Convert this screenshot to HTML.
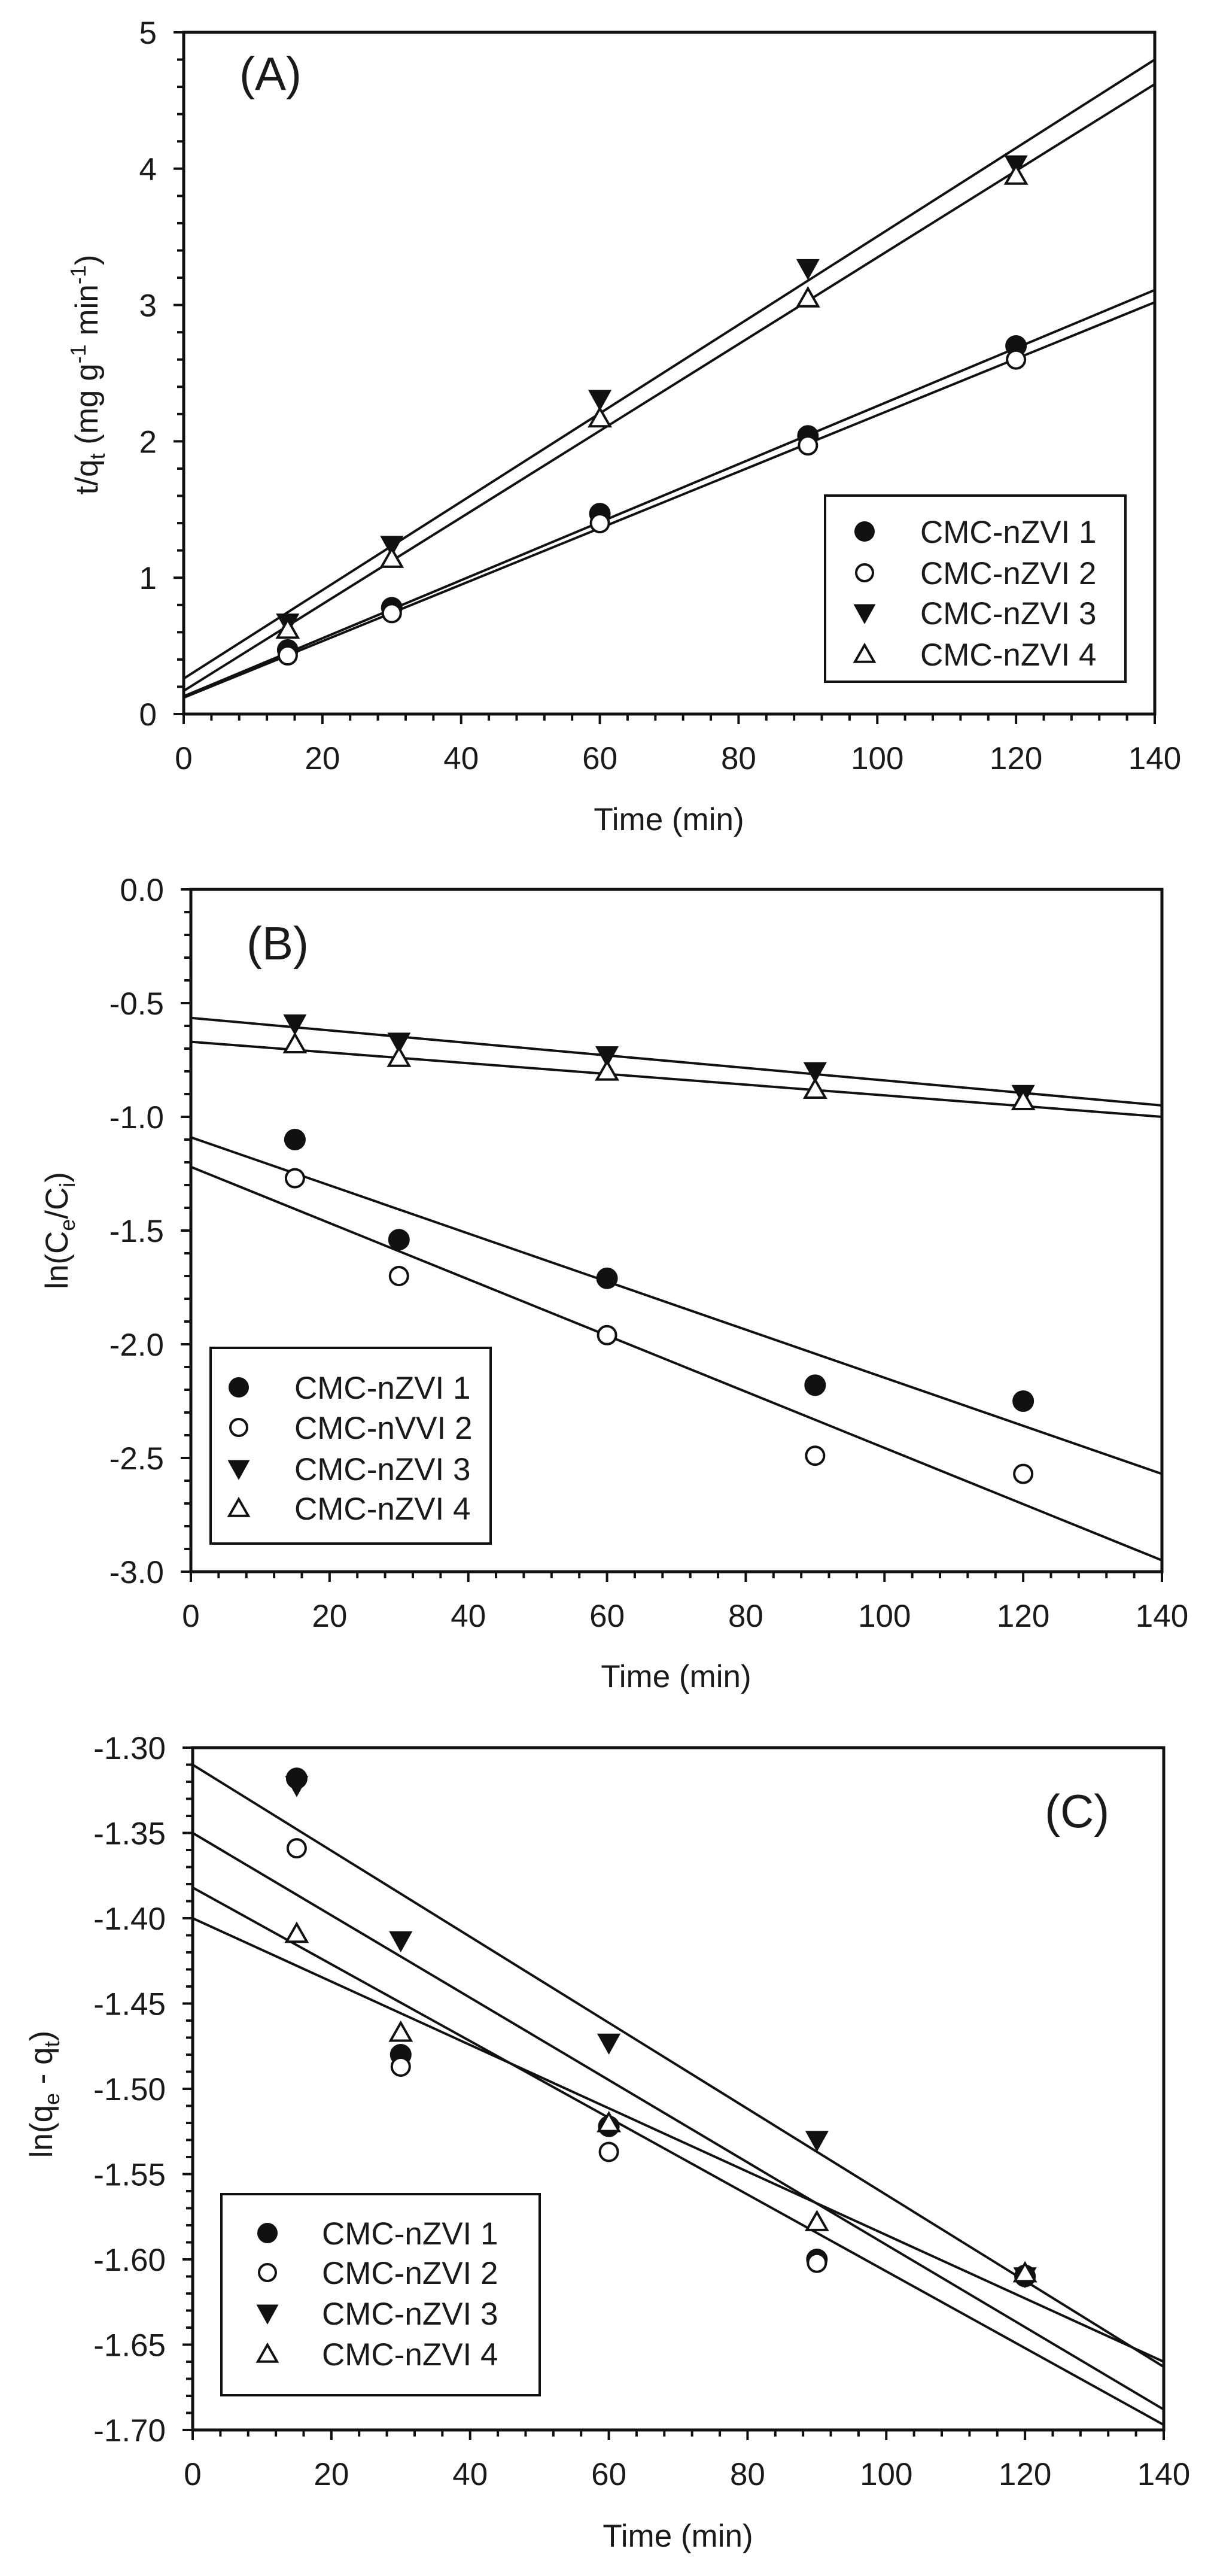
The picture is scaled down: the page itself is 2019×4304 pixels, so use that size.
<!DOCTYPE html>
<html><head><meta charset="utf-8">
<style>
html,body{margin:0;padding:0;background:#fff;}
svg{display:block;}
text{font-family:"Liberation Sans",Arial,sans-serif;fill:#1a1a1a;}
</style></head>
<body>
<svg id="s" xmlns="http://www.w3.org/2000/svg" width="2019" height="4304" viewBox="0 0 2019 4304">
<rect width="2019" height="4304" fill="#fff"/>
<!-- Axis titles -->
<text transform="translate(163,626) rotate(-90)" font-size="53" text-anchor="middle">t/q<tspan font-size="36" dy="12">t</tspan><tspan dy="-12"> (mg g</tspan><tspan font-size="36" dy="-20">-1</tspan><tspan dy="20"> min</tspan><tspan font-size="36" dy="-20">-1</tspan><tspan dy="20">)</tspan></text>
<text x="1118" y="1387" font-size="53" text-anchor="middle">Time (min)</text>
<text x="400" y="150" font-size="78">(A)</text>

<text transform="translate(113,2056) rotate(-90)" font-size="53" text-anchor="middle">ln(C<tspan font-size="36" dy="12">e</tspan><tspan dy="-12">/C</tspan><tspan font-size="36" dy="12">i</tspan><tspan dy="-12">)</tspan></text>
<text x="1130" y="2819" font-size="53" text-anchor="middle">Time (min)</text>
<text x="412" y="1603" font-size="78">(B)</text>

<text transform="translate(87,3499) rotate(-90)" font-size="53" text-anchor="middle">ln(q<tspan font-size="36" dy="12">e</tspan><tspan dy="-12"> - q</tspan><tspan font-size="36" dy="12">t</tspan><tspan dy="-12">)</tspan></text>
<text x="1133" y="4255" font-size="53" text-anchor="middle">Time (min)</text>
<text x="1746" y="3053" font-size="78">(C)</text>
<g id="g"></g>
</svg>
<script>
var NS="http://www.w3.org/2000/svg",G=document.getElementById("g");
function el(t,a,txt){var e=document.createElementNS(NS,t);for(var k in a)e.setAttribute(k,a[k]);if(txt!=null)e.textContent=txt;G.appendChild(e);return e;}
function marker(type,x,y,leg){
  var r=leg?16:17;
  if(type==0)el("circle",{cx:x,cy:y,r:r,fill:"#111",stroke:"#111","stroke-width":2});
  else if(type==1)el("circle",{cx:x,cy:y,r:r-2,fill:"#fff",stroke:"#111","stroke-width":4});
  else if(type==2){var h=r*1.05;el("polygon",{points:(x-h)+","+(y-h*0.8)+" "+(x+h)+","+(y-h*0.8)+" "+x+","+(y+h*1.0),fill:"#111",stroke:"#111","stroke-width":2});}
  else {var h=r*1.0;el("polygon",{points:(x-h)+","+(y+h*0.8)+" "+(x+h)+","+(y+h*0.8)+" "+x+","+(y-h*0.95),fill:"#fff",stroke:"#111","stroke-width":4});}
}
function panel(p){
  var X=function(v){return p.x0+(p.x1-p.x0)*v/140;};
  var Y=function(v){return p.y1+(p.y0-p.y1)*(v-p.ymin)/(p.ymax-p.ymin);};
  // fit lines
  p.lines.forEach(function(l){el("line",{x1:X(0),y1:Y(l[0]),x2:X(140),y2:Y(l[1]),stroke:"#111","stroke-width":4});});
  // frame
  el("rect",{x:p.x0,y:p.y0,width:p.x1-p.x0,height:p.y1-p.y0,fill:"none",stroke:"#111","stroke-width":5});
  // x ticks
  for(var t=0;t<=140;t+=4){var major=(t%20==0);var xx=X(t);
    el("line",{x1:xx,y1:p.y1,x2:xx,y2:p.y1+(major?17:11),stroke:"#111","stroke-width":4});
    if(major)el("text",{x:xx,y:p.y1+92,"font-size":53,"text-anchor":"middle"},String(t));}
  // y ticks
  var n=Math.round((p.ymax-p.ymin)/p.minor);
  for(var i=0;i<=n;i++){var v=p.ymin+i*p.minor;var yy=Y(v);var major=(i%5==0);
    el("line",{x1:p.x0,y1:yy,x2:p.x0-(major?17:11),y2:yy,stroke:"#111","stroke-width":4});
    if(major)el("text",{x:p.x0-45,y:yy+19,"font-size":53,"text-anchor":"end"},v.toFixed(p.dec));}
  // data
  var xs=[15,30,60,90,120];
  p.data.forEach(function(d,s){d.forEach(function(v,i){marker(s,X(xs[i]),Y(v),false);});});
  // legend
  var L=p.leg;
  el("rect",{x:L.x,y:L.y,width:L.w,height:L.h,fill:"#fff",stroke:"#111","stroke-width":4});
  L.names.forEach(function(nm,i){var yy=L.ys[i];marker(i,L.sx,yy,true);
    el("text",{x:L.tx,y:yy+19,"font-size":53},nm);});
}
var names=["CMC-nZVI 1","CMC-nZVI 2","CMC-nZVI 3","CMC-nZVI 4"];
panel({x0:307,x1:1930,y0:54,y1:1193,ymin:0,ymax:5,minor:0.2,dec:0,
  lines:[[0.13,3.11],[0.12,3.02],[0.26,4.80],[0.17,4.62]],
  data:[[0.47,0.78,1.47,2.04,2.70],[0.43,0.74,1.40,1.97,2.60],[0.67,1.24,2.31,3.27,4.03],[0.62,1.14,2.17,3.05,3.95]],
  leg:{x:1379,y:828,w:502,h:311,sx:1445,tx:1538,ys:[888,957,1024,1093],names:names}});
panel({x0:319,x1:1942,y0:1486,y1:2626,ymin:-3,ymax:0,minor:0.1,dec:1,
  lines:[[-1.09,-2.57],[-1.22,-2.95],[-0.565,-0.95],[-0.67,-1.0]],
  data:[[-1.10,-1.54,-1.71,-2.18,-2.25],[-1.27,-1.70,-1.96,-2.49,-2.57],[-0.59,-0.67,-0.73,-0.80,-0.90],[-0.68,-0.74,-0.80,-0.88,-0.93]],
  leg:{x:352,y:2252,w:468,h:327,sx:399,tx:492,ys:[2318,2385,2454,2520],names:["CMC-nZVI 1","CMC-nVVI 2","CMC-nZVI 3","CMC-nZVI 4"]}});
panel({x0:322,x1:1945,y0:2920,y1:4060,ymin:-1.70,ymax:-1.30,minor:0.01,dec:2,
  lines:[[-1.31,-1.663],[-1.35,-1.688],[-1.382,-1.697],[-1.40,-1.66]],
  data:[[-1.318,-1.480,-1.522,-1.600,-1.610],[-1.359,-1.487,-1.537,-1.602,-1.609],[-1.322,-1.413,-1.473,-1.530,-1.610],[-1.409,-1.467,-1.520,-1.578,-1.608]],
  leg:{x:370,y:3666,w:532,h:336,sx:447,tx:538,ys:[3731,3797,3865,3933],names:names}});
</script>
</body></html>
